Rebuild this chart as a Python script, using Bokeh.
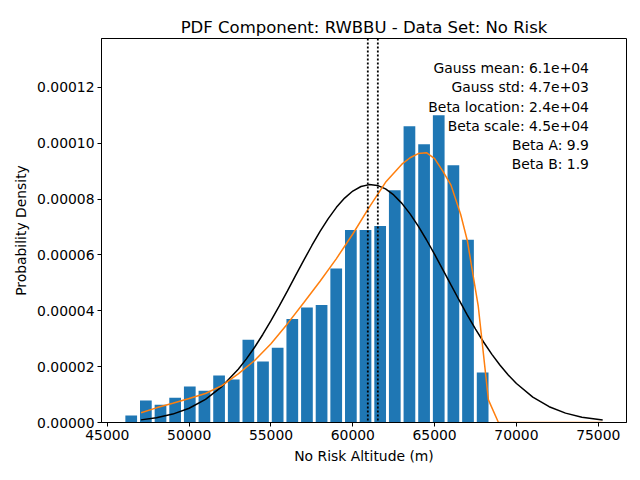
from bokeh.plotting import figure
from bokeh.models import Range1d, Span, Label, FixedTicker, PrintfTickFormatter
from bokeh.embed import file_html
from bokeh.resources import INLINE

# ---- data ----
bin_centers = [46460, 47355, 48250, 49144, 50039, 50934, 51829, 52724, 53618,
               54513, 55408, 56303, 57198, 58092, 58987, 59882, 60777, 61672,
               62566, 63461, 64356, 65251, 66146, 67040, 67935]
density = [2.5e-6, 7.86e-6, 6.4e-6, 8.9e-6, 1.29e-5, 1.14e-5, 1.68e-5, 1.54e-5,
           2.96e-5, 2.18e-5, 2.68e-5, 3.71e-5, 4.12e-5, 4.21e-5, 5.51e-5,
           6.89e-5, 6.89e-5, 7.04e-5, 8.32e-5, 1.061e-4, 9.96e-5, 1.10e-4,
           9.21e-5, 6.54e-5, 1.79e-5]
bar_width = 716

gauss_x = [47050, 48000, 49000, 50000, 51000, 52000, 53000, 53500, 54000,
           54500, 55000, 55500, 56000, 56500, 57000, 57500, 58000, 58500,
           59000, 59500, 60000, 60500, 61000, 61500, 62000, 62500, 63000,
           63500, 64000, 64500, 65000, 65500, 66000, 66500, 67000, 67500,
           68000, 68500, 69000, 69500, 70000, 71000, 72000, 73000, 74000,
           75270]
gauss_y = [9.4e-7, 1.69e-6, 3.01e-6, 5.11e-6, 8.30e-6, 1.287e-5, 1.905e-5,
           2.279e-5, 2.695e-5, 3.152e-5, 3.645e-5, 4.164e-5, 4.704e-5,
           5.256e-5, 5.805e-5, 6.338e-5, 6.842e-5, 7.302e-5, 7.704e-5,
           8.036e-5, 8.288e-5, 8.450e-5, 8.518e-5, 8.489e-5, 8.364e-5,
           8.147e-5, 7.846e-5, 7.470e-5, 7.03e-5, 6.544e-5, 6.02e-5, 5.477e-5,
           4.925e-5, 4.378e-5, 3.848e-5, 3.345e-5, 2.874e-5, 2.441e-5,
           2.049e-5, 1.701e-5, 1.396e-5, 9.10e-6, 5.66e-6, 3.36e-6, 1.91e-6,
           8.7e-7]

beta_x = [47063, 48000, 49000, 50000, 51000, 52000, 53000, 54000, 55000,
          56000, 57000, 58000, 59000, 60000, 61000, 62000, 63000, 63500,
          64000, 64500, 65000, 65500, 66000, 66593, 67003, 67407, 67663,
          68288, 68900, 75267]
beta_y = [3.46e-6, 5.25e-6, 6.9e-6, 8.6e-6, 1.04e-5, 1.32e-5, 1.74e-5,
          2.22e-5, 2.82e-5, 3.53e-5, 4.29e-5, 5.06e-5, 5.87e-5, 6.75e-5,
          7.70e-5, 8.60e-5, 9.25e-5, 9.48e-5, 9.63e-5, 9.66e-5, 9.45e-5,
          9.00e-5, 8.50e-5, 7.45e-5, 6.50e-5, 5.07e-5, 4.18e-5, 8.1e-6, 0.0,
          0.0]

vline_x = [60917, 61530]

annotations = ["Gauss mean: 6.1e+04", "Gauss std: 4.7e+03",
               "Beta location: 2.4e+04", "Beta scale: 4.5e+04",
               "Beta A: 9.9", "Beta B: 1.9"]
annot_y = [1.268e-4, 1.200e-4, 1.131e-4, 1.062e-4, 9.93e-5, 9.25e-5]
annot_x = 74430

x_ticks = [45000, 50000, 55000, 60000, 65000, 70000, 75000]
y_ticks = [0.0, 0.00002, 0.00004, 0.00006, 0.00008, 0.00010, 0.00012]

FONT = "DejaVu Sans"

p = figure(width=640, height=480, output_backend="svg", toolbar_location=None,
           x_range=Range1d(44644, 76725), y_range=Range1d(0, 1.375e-4),
           title="PDF Component: RWBBU - Data Set: No Risk")
p.frame_width = 525
p.frame_height = 384
p.min_border_left = 101
p.min_border_right = 14
p.min_border_top = 38
p.min_border_bottom = 58

p.title.align = "center"
p.title.text_font = FONT
p.title.text_font_size = "16.5px"
p.title.text_font_style = "normal"
p.title.text_color = "black"
p.title.standoff = 4

p.grid.visible = False
p.outline_line_color = "black"
p.outline_line_width = 1
p.background_fill_color = "white"
p.border_fill_color = "white"

for ax in (p.xaxis[0], p.yaxis[0]):
    ax.major_tick_out = 4
    ax.major_tick_in = 0
    ax.minor_tick_out = 0
    ax.minor_tick_in = 0
    ax.major_label_standoff = 3
    ax.major_label_text_font = FONT
    ax.major_label_text_font_size = "13.9px"
    ax.major_label_text_color = "black"
    ax.axis_label_text_font = FONT
    ax.axis_label_text_font_size = "13.9px"
    ax.axis_label_text_font_style = "normal"
    ax.axis_label_text_color = "black"
    ax.axis_line_color = "black"
    ax.major_tick_line_color = "black"
    ax.axis_label_standoff = 5

p.xaxis.ticker = FixedTicker(ticks=x_ticks)
p.yaxis.ticker = FixedTicker(ticks=y_ticks)
p.yaxis.formatter = PrintfTickFormatter(format="%.5f")
p.xaxis.axis_label = "No Risk Altitude (m)"
p.yaxis.axis_label = "Probability Density"

p.vbar(x=bin_centers, top=density, width=bar_width, bottom=0,
       fill_color="#1f77b4", line_color=None)

for vx in vline_x:
    p.add_layout(Span(location=vx, dimension="height", line_color="black",
                      line_dash="2 2", line_width=1.8))

p.line(gauss_x, gauss_y, line_color="black", line_width=1.5)
p.line(beta_x, beta_y, line_color="#ff7f0e", line_width=1.5)

for txt, ty in zip(annotations, annot_y):
    p.add_layout(Label(x=annot_x, y=ty, text=txt, text_align="right",
                       text_baseline="middle", text_font=FONT,
                       text_font_size="13.9px", text_color="black"))

open("out.html", "w").write(file_html(p, INLINE))
